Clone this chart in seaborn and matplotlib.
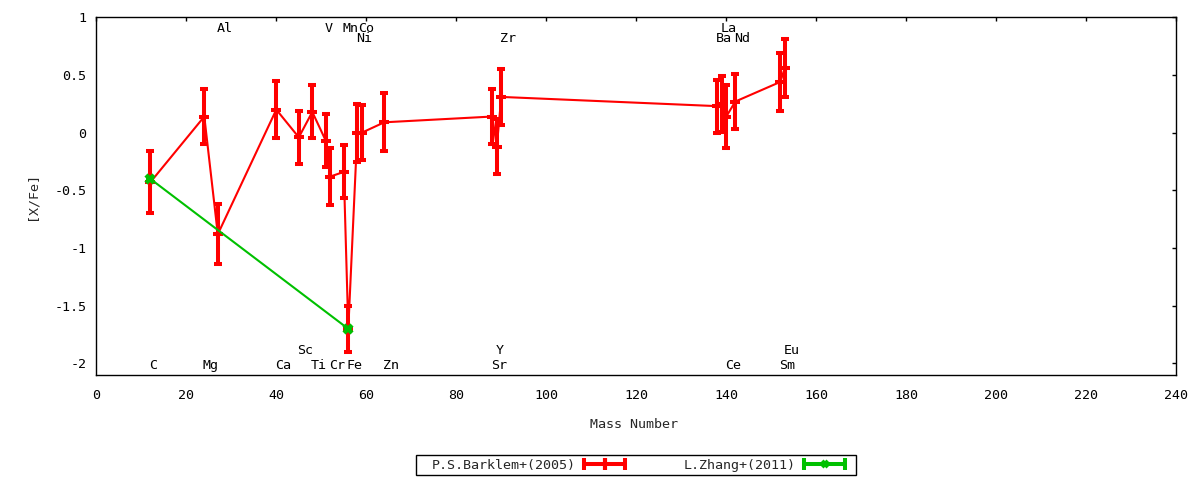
import numpy as np
import pandas as pd
import matplotlib
matplotlib.use('Agg')
import matplotlib.pyplot as plt
import seaborn as sns
from matplotlib.lines import Line2D
from matplotlib.patches import Rectangle
from matplotlib.legend_handler import HandlerBase
from matplotlib.ticker import FuncFormatter

# ---------------- data ----------------
elements = ['C', 'Mg', 'Al', 'Ca', 'Sc', 'Ti', 'V', 'Cr', 'Mn', 'Fe', 'Ni', 'Co',
            'Zn', 'Sr', 'Y', 'Zr', 'Ba', 'La', 'Ce', 'Nd', 'Sm', 'Eu']
mass = [12, 24, 27, 40, 45, 48, 51, 52, 55, 56, 58, 59,
        64, 88, 89, 90, 138, 139, 140, 142, 152, 153]
barklem_xfe = [-0.43, 0.14, -0.88, 0.20, -0.04, 0.18, -0.07, -0.38, -0.34, -1.70, 0.00, 0.00,
               0.09, 0.14, -0.12, 0.31, 0.23, 0.25, 0.14, 0.27, 0.44, 0.56]
barklem_err = [0.27, 0.24, 0.26, 0.25, 0.23, 0.23, 0.23, 0.25, 0.23, 0.20, 0.25, 0.24,
               0.25, 0.24, 0.24, 0.24, 0.23, 0.24, 0.27, 0.24, 0.25, 0.25]

zhang_elements = ['C', 'Fe']
zhang_mass = [12, 56]
zhang_xfe = [-0.40, -1.70]
zhang_err = [0.0, 0.0]

series_names = ['P.S.Barklem+(2005)', 'L.Zhang+(2011)']

# element labels, arranged in four rows
label_row_top = ['Al', 'V', 'Mn', 'Co', 'La']
label_row_top2 = ['Ni', 'Zr', 'Ba', 'Nd']
label_row_bot = ['C', 'Mg', 'Ca', 'Ti', 'Cr', 'Fe', 'Zn', 'Sr', 'Ce', 'Sm']
label_row_bot2 = ['Sc', 'Y', 'Eu']
label_row_y = [0.87, 0.785, -2.045, -1.92]
label_shift = {'Co': -0.6}

xticks = list(range(0, 241, 20))
yticks = [-2, -1.5, -1, -0.5, 0, 0.5, 1]

RED = '#ff0000'
GREEN = '#00c000'
FS = 9.6

# ---------------- style ----------------
sns.set_theme(style='white')
plt.rcParams['font.family'] = ['DejaVu Sans Mono', 'DejaVu Sans']
plt.rcParams['font.size'] = FS
plt.rcParams['axes.unicode_minus'] = False

fig = plt.figure(figsize=(12, 4.8), dpi=100)
ax = fig.add_axes([96.3 / 1200, 1 - 375 / 480, 1080 / 1200, (375 - 17.3) / 480])

# ---------------- Barklem ----------------
df_b = pd.DataFrame({'mass': mass, 'xfe': barklem_xfe, 'err': barklem_err})
sns.lineplot(data=df_b, x='mass', y='xfe', sort=False, estimator=None,
             color=RED, lw=1.5, ax=ax, legend=False, zorder=3)
ax.errorbar(df_b['mass'], df_b['xfe'], yerr=df_b['err'], fmt='none', ecolor=RED,
            elinewidth=2.9, capsize=3.2, capthick=2.9, zorder=3)
ax.plot(df_b['mass'], df_b['xfe'], ls='none', marker='+', ms=7, mew=2.9,
        color=RED, zorder=4)

# ---------------- Zhang ----------------
df_z = pd.DataFrame({'mass': zhang_mass, 'xfe': zhang_xfe, 'err': zhang_err})
sns.lineplot(data=df_z, x='mass', y='xfe', sort=False, estimator=None,
             color=GREEN, lw=1.5, ax=ax, legend=False, zorder=5)
ax.errorbar(df_z['mass'], df_z['xfe'], yerr=df_z['err'], fmt='none', ecolor=GREEN,
            elinewidth=2.9, capsize=3.2, capthick=2.9, zorder=5)
ax.plot(df_z['mass'], df_z['xfe'], ls='none', marker='x', ms=6, mew=3.2,
        color=GREEN, zorder=6)

# ---------------- element labels ----------------
mass_of = dict(zip(elements, mass))
for row, yv in zip([label_row_top, label_row_top2, label_row_bot, label_row_bot2], label_row_y):
    for el in row:
        ax.text(mass_of[el] - 0.3 + label_shift.get(el, 0.0), yv, el, ha='left',
                va='baseline', fontsize=FS, color='black', zorder=7)

# ---------------- axes ----------------
ax.set_xlim(0, 240)
ax.set_ylim(-2.1, 1.0)
ax.set_xticks(xticks)
ax.set_yticks(yticks)
ax.yaxis.set_major_formatter(FuncFormatter(lambda v, p: f'{v:g}'))
ax.xaxis.set_major_formatter(FuncFormatter(lambda v, p: f'{v:g}'))
ax.tick_params(direction='in', length=3, width=1, top=True, right=True,
               colors='black', labelsize=FS)
ax.tick_params(axis='x', pad=10)
ax.tick_params(axis='y', pad=7)
for s in ax.spines.values():
    s.set_color('black')
    s.set_linewidth(1.0)
ax.grid(False)

ax.set_xlabel('Mass Number', fontsize=FS, va='center')
ax.xaxis.set_label_coords((634 - 96.3) / 1080, (375 - 424) / 357.7)
ax.set_ylabel('[X/Fe]', fontsize=FS, rotation=90, va='center', ha='center')
ax.yaxis.set_label_coords((32 - 96.3) / 1080, (375 - 196) / 357.7)


# ---------------- legend ----------------
class ErrHandler(HandlerBase):
    def __init__(self, color, mid_marker, mid_ms, mid_mew):
        super().__init__()
        self.color = color
        self.mid_marker = mid_marker
        self.mid_ms = mid_ms
        self.mid_mew = mid_mew

    def create_artists(self, legend, orig_handle, xdescent, ydescent, width, height,
                       fontsize, trans):
        y = height / 2 - ydescent
        x0 = -xdescent
        x1 = width - xdescent
        line = Line2D([x0, x1], [y, y], color=self.color, lw=2.9, solid_capstyle='butt')
        caps = Line2D([x0 + 1, x1 - 1], [y, y], ls='none', marker='|', ms=8, mew=2.9,
                      color=self.color)
        mid = Line2D([(x0 + x1) / 2], [y], ls='none', marker=self.mid_marker,
                     ms=self.mid_ms, mew=self.mid_mew, color=self.color)
        for a in (line, caps, mid):
            a.set_transform(trans)
        return [line, caps, mid]


h_b = Line2D([], [], color=RED)
h_z = Line2D([], [], color=GREEN)
leg = fig.legend([h_b, h_z], series_names, loc='center left',
                 bbox_to_anchor=(432 / 1200, 1 - 465 / 480), bbox_transform=fig.transFigure,
                 ncol=2, markerfirst=False, frameon=False,
                 handlelength=3.3, handletextpad=0.5, columnspacing=4.3,
                 borderpad=0.0, borderaxespad=0, fontsize=FS,
                 handler_map={h_b: ErrHandler(RED, '|', 9, 3.0),
                              h_z: ErrHandler(GREEN, 'x', 5, 3.0)})
fig.patches.append(Rectangle((416 / 1200, 1 - 475 / 480), 440 / 1200, 20 / 480,
                             transform=fig.transFigure, fill=False, edgecolor='black',
                             linewidth=1.0, zorder=1))

fig.savefig('out.png', dpi=100)
